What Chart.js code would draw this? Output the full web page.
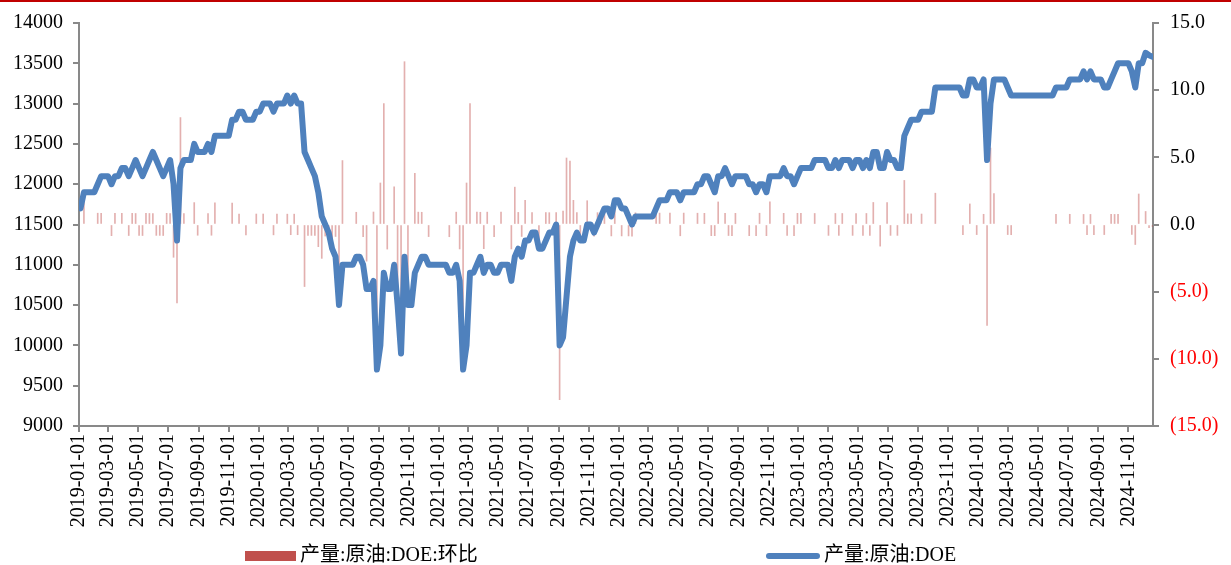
<!DOCTYPE html>
<html>
<head>
<meta charset="utf-8">
<script src="https://cdn.jsdelivr.net/npm/chart.js@4.4.1/dist/chart.umd.min.js"></script>
<style>
  body { margin: 0; background: #fff; }
  #wrap { position: relative; width: 1231px; height: 565px; overflow: hidden; }
  #topline { position: absolute; left: 0; top: 0; width: 1231px; height: 2px; background: #C00000; }
  .lg { position: absolute; font: 20px "Liberation Serif", "Noto Sans CJK SC", serif; color: #000; white-space: nowrap; line-height: 22px; }
  .sw { display: inline-block; vertical-align: middle; margin-right: 4px; }
</style>
</head>
<body>
<div id="wrap">
  <canvas id="chart" width="1231" height="565"></canvas>
  <div id="topline"></div>
  <div class="lg" style="left:245px; top:543px;"><span class="sw" style="width:51px;height:10px;background:#C0504D;"></span>产量:原油:DOE:环比</div>
  <div class="lg" style="left:766px; top:543px;"><span class="sw" style="width:54px;height:6px;border-radius:3px;background:#4F81BD;"></span>产量:原油:DOE</div>
</div>
<script>
// weekly DOE crude production, first week ending 2019-01-04
const startDate = '2019-01-04';

const xTickLabels = [
  '2019-01-01','2019-03-01','2019-05-01','2019-07-01','2019-09-01','2019-11-01',
  '2020-01-01','2020-03-01','2020-05-01','2020-07-01','2020-09-01','2020-11-01',
  '2021-01-01','2021-03-01','2021-05-01','2021-07-01','2021-09-01','2021-11-01',
  '2022-01-01','2022-03-01','2022-05-01','2022-07-01','2022-09-01','2022-11-01',
  '2023-01-01','2023-03-01','2023-05-01','2023-07-01','2023-09-01','2023-11-01',
  '2024-01-01','2024-03-01','2024-05-01','2024-07-01','2024-09-01','2024-11-01'
];

// 产量:原油:DOE (千桶/日)
const production = [
  11700,11900,11900,11900,11900,12000,12100,12100,12100,12000,
  12100,12100,12200,12200,12100,12200,12300,12200,12100,12200,
  12300,12400,12300,12200,12100,12200,12300,12000,11300,12200,
  12300,12300,12300,12500,12400,12400,12400,12500,12400,12600,
  12600,12600,12600,12600,12800,12800,12900,12900,12800,12800,
  12800,12900,12900,13000,13000,13000,12900,13000,13000,13000,
  13100,13000,13100,13000,13000,12400,12300,12200,12100,11900,
  11600,11500,11400,11200,11100,10500,11000,11000,11000,11000,
  11100,11100,11000,10700,10700,10800,9700,10000,10900,10700,
  10700,11000,10500,9900,11100,10500,10500,10900,11000,11100,
  11100,11000,11000,11000,11000,11000,11000,10900,10900,11000,
  10800,9700,10000,10900,10900,11000,11100,10900,11000,11000,
  10900,10900,11000,11000,11000,10800,11100,11200,11100,11300,
  11300,11400,11400,11200,11200,11300,11400,11400,11500,10000,
  10100,10600,11100,11300,11400,11300,11300,11500,11500,11400,
  11500,11600,11700,11700,11600,11800,11800,11700,11700,11600,
  11500,11600,11600,11600,11600,11600,11600,11700,11800,11800,
  11800,11900,11900,11900,11800,11900,11900,11900,11900,12000,
  12000,12100,12100,12000,11900,12100,12100,12200,12100,12000,
  12100,12100,12100,12100,12000,12000,11900,12000,12000,11900,
  12100,12100,12100,12100,12200,12100,12100,12000,12100,12200,
  12200,12200,12200,12300,12300,12300,12300,12200,12200,12300,
  12200,12300,12300,12300,12200,12300,12300,12200,12300,12200,
  12400,12400,12200,12200,12400,12300,12300,12200,12200,12600,
  12700,12800,12800,12800,12900,12900,12900,12900,13200,13200,
  13200,13200,13200,13200,13200,13200,13100,13100,13300,13300,
  13200,13200,13300,12300,13000,13300,13300,13300,13300,13200,
  13100,13100,13100,13100,13100,13100,13100,13100,13100,13100,
  13100,13100,13100,13200,13200,13200,13200,13300,13300,13300,
  13300,13400,13300,13400,13300,13300,13300,13200,13200,13300,
  13400,13500,13500,13500,13500,13400,13200,13500,13500,13631,
  13600,13580
];

// 产量:原油:DOE:环比 (%)
const wowChange = [
  0,1.71,0,0,0,0.84,0.83,0,0,-0.83,
  0.83,0,0.83,0,-0.82,0.83,0.82,-0.81,-0.82,0.83,
  0.82,0.81,-0.81,-0.81,-0.82,0.83,0.82,-2.44,-5.83,7.96,
  0.82,0,0,1.63,-0.80,0,0,0.81,-0.80,1.61,
  0,0,0,0,1.59,0,0.78,0,-0.78,0,
  0,0.78,0,0.78,0,0,-0.77,0.78,0,0,
  0.77,-0.76,0.77,-0.76,0,-4.62,-0.81,-0.81,-0.82,-1.65,
  -2.52,-0.86,-0.87,-1.75,-0.89,-5.41,4.76,0,0,0,
  0.91,0,-0.90,-2.73,0,0.93,-10.19,3.09,9.00,-1.83,
  0,2.80,-4.55,-5.71,12.12,-5.41,0,3.81,0.92,0.91,
  0,-0.90,0,0,0,0,0,-0.91,0,0.92,
  -1.82,-10.19,3.09,9.00,0,0.92,0.91,-1.80,0.92,0,
  -0.91,0,0.92,0,0,-1.82,2.78,0.90,-0.89,1.80,
  0,0.88,0,-1.75,0,0.89,0.88,0,0.88,-13.04,
  1.00,4.95,4.72,1.80,0.88,-0.88,0,1.77,0,-0.87,
  0.88,0.87,0.86,0,-0.85,1.72,0,-0.85,0,-0.85,
  -0.86,0.87,0,0,0,0,0,0.86,0.85,0,
  0,0.85,0,0,-0.84,0.85,0,0,0,0.84,
  0,0.83,0,-0.83,-0.83,1.68,0,0.83,-0.82,-0.83,
  0.83,0,0,0,-0.83,0,-0.83,0.84,0,-0.83,
  1.68,0,0,0,0.83,-0.82,0,-0.83,0.83,0.83,
  0,0,0,0.82,0,0,0,-0.81,0,0.82,
  -0.81,0.82,0,0,-0.81,0.82,0,-0.81,0.82,-0.81,
  1.64,0,-1.61,0,1.64,-0.81,0,-0.81,0,3.28,
  0.79,0.79,0,0,0.78,0,0,0,2.33,0,
  0,0,0,0,0,0,-0.76,0,1.53,0,
  -0.75,0,0.76,-7.52,5.69,2.31,0,0,0,-0.75,
  -0.76,0,0,0,0,0,0,0,0,0,
  0,0,0,0.76,0,0,0,0.76,0,0,
  0,0.75,-0.75,0.75,-0.75,0,0,-0.75,0,0.76,
  0.75,0.75,0,0,0,-0.74,-1.49,2.27,0,0.97,
  -0.23,-0.15
];

// dates -> day numbers from 2019-01-01 so the x axis can be linear
const DAY = 86400000;
const base = Date.UTC(2019, 0, 1);
function dayOf(s) {
  const [y, m, d] = s.split('-').map(Number);
  return (Date.UTC(y, m - 1, d) - base) / DAY;
}
const startDay = dayOf(startDate);
const weekDays = production.map((_, i) => startDay + 7 * i);
const tickDays = xTickLabels.map(dayOf);

const tickFont = { family: '"Liberation Serif", "Noto Sans CJK SC", serif', size: 20 };
const axisGray = '#898989';
const barColor = 'rgba(192, 80, 77, 0.45)';

new Chart(document.getElementById('chart'), {
  type: 'bar',
  data: {
    datasets: [
      {
        type: 'line',
        label: '产量:原油:DOE',
        data: weekDays.map((d, i) => ({ x: d, y: production[i] })),
        yAxisID: 'y',
        borderColor: '#4F81BD',
        borderWidth: 6,
        pointRadius: 0,
        tension: 0,
        borderJoinStyle: 'round',
        borderCapStyle: 'round',
        order: 0
      },
      {
        type: 'bar',
        label: '产量:原油:DOE:环比',
        data: weekDays.map((d, i) => ({ x: d, y: wowChange[i] })),
        yAxisID: 'y2',
        // zero weeks leave no mark at all
        backgroundColor: ctx => (ctx.raw && ctx.raw.y === 0 ? 'rgba(0,0,0,0)' : barColor),
        barThickness: 1,
        order: 1
      }
    ]
  },
  options: {
    responsive: false,
    animation: false,
    layout: { padding: { top: 23, left: 0, right: 0, bottom: 0 } },
    plugins: { legend: { display: false }, tooltip: { enabled: false } },
    scales: {
      x: {
        type: 'linear',
        bounds: 'data',
        offset: false,
        min: 0,
        max: dayOf('2024-12-21'),
        afterBuildTicks: s => { s.ticks = tickDays.map(v => ({ value: v })); },
        afterFit: s => { s.height = 139; },
        ticks: {
          autoSkip: false,
          minRotation: 90,
          maxRotation: 90,
          padding: 2,
          color: '#000',
          font: tickFont,
          callback: v => xTickLabels[tickDays.indexOf(v)]
        },
        grid: { offset: false, drawOnChartArea: false, drawTicks: true, tickLength: 6, color: axisGray, lineWidth: 2 },
        border: { display: true, color: axisGray, width: 2 }
      },
      y: {
        position: 'left',
        min: 9000,
        max: 14000,
        afterFit: s => { s.width = 79; },
        ticks: { stepSize: 500, padding: 10, color: '#000', font: tickFont, callback: v => String(v) },
        grid: { drawOnChartArea: false, drawTicks: true, tickLength: 6, color: axisGray, lineWidth: 2 },
        border: { display: true, color: axisGray, width: 2 }
      },
      y2: {
        position: 'right',
        min: -15,
        max: 15,
        afterFit: s => { s.width = 78; },
        ticks: {
          stepSize: 5,
          padding: 11,
          font: tickFont,
          color: ctx => (ctx.tick && ctx.tick.value < 0 ? '#FF0000' : '#000'),
          callback: v => (v < 0 ? '(' + Math.abs(v).toFixed(1) + ')' : v.toFixed(1))
        },
        grid: { drawOnChartArea: false, drawTicks: true, tickLength: 6, color: axisGray, lineWidth: 2 },
        border: { display: true, color: axisGray, width: 2 }
      }
    }
  }
});
</script>
</body>
</html>
